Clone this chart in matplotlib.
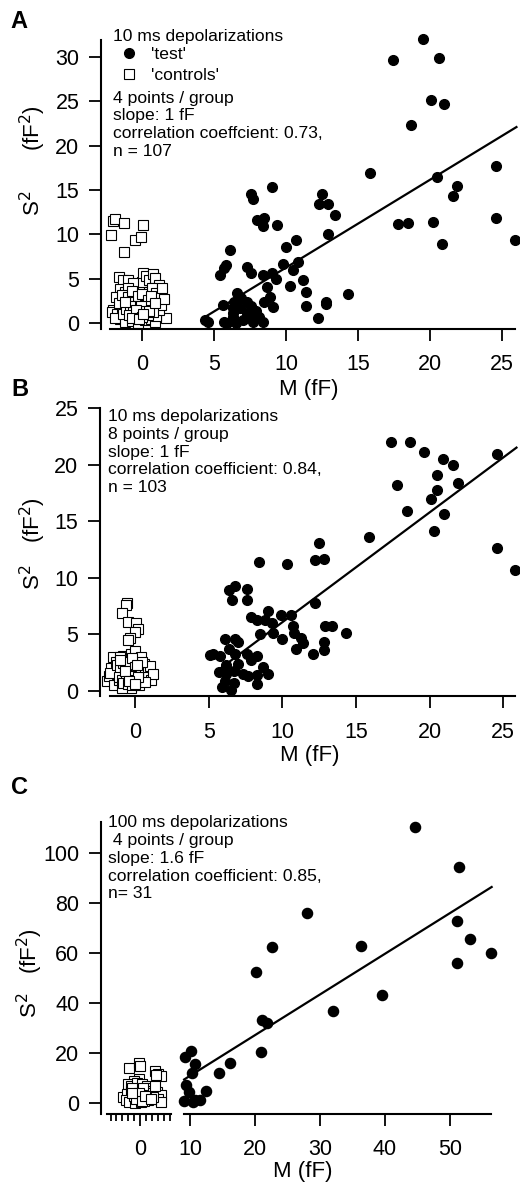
import matplotlib
matplotlib.use("Agg")
import matplotlib.pyplot as plt
from matplotlib.lines import Line2D

plt.rcParams['font.family'] = ['Liberation Sans', 'DejaVu Sans']

W, H = 520, 1184

# ---- panel A: 10 ms, 4 points / group
a_test_x = [19.5, 17.4, 20.6, 20.1, 21.0, 18.7, 15.8, 24.6, 20.5, 21.9, 21.6, 17.8, 18.5, 20.2,
            24.6, 25.9, 20.8, 9.0, 7.6, 7.7, 12.5, 12.3, 12.9, 13.4, 8.0, 8.5, 8.4, 9.4, 12.9,
            10.7, 10.0, 6.1, 5.8, 5.7, 5.4, 7.3, 7.6, 9.8, 10.8, 10.5, 8.4, 9.0, 9.3, 11.2, 10.3,
            11.4, 8.7, 14.3, 11.4, 12.8, 12.8, 12.2, 8.9, 8.5, 9.1, 5.6, 6.6, 6.9, 6.4, 7.3, 6.3,
            6.8, 7.6, 7.9, 6.3, 8.1, 8.4, 7.0, 6.5, 5.7, 4.6, 4.4, 6.3, 7.3, 7.6, 5.9, 7.7]
a_test_y = [32.0, 29.7, 29.9, 25.1, 24.7, 22.3, 16.9, 17.7, 16.5, 15.5, 14.3, 11.2, 11.3, 11.4,
            11.8, 9.4, 8.9, 15.3, 14.6, 14.0, 14.5, 13.4, 13.4, 12.2, 11.6, 11.8, 10.9, 11.1, 10.0,
            9.4, 8.6, 8.2, 6.5, 6.2, 5.4, 6.3, 5.6, 6.7, 6.9, 6.0, 5.4, 5.6, 5.0, 4.9, 4.2,
            3.5, 4.1, 3.3, 1.9, 2.4, 2.1, 0.6, 2.9, 2.4, 1.8, 2.0, 3.4, 2.8, 2.4, 2.4, 1.7,
            1.7, 1.9, 1.3, 0.7, 0.7, 0.15, 0.3, 0.05, 0.15, 0.1, 0.3, 1.1, 1.1, 0.9, 0.05, 0.15]
a_ctrl_x = [-2.15, -2.0, -1.9, -1.25, -1.25, -0.5, -0.1, 0.1, 1.7, 1.3,
            -1.6, -1.3, -1.0, -1.5, -1.2, -0.9, -1.8, -2.0, -2.1, -1.7, -1.4, -1.1, -0.8, -0.6,
            -0.4, -0.2, 0.0, 0.1, 0.3, 0.5, 0.8, 0.9, 1.2, 1.3, 1.1, 0.7, 0.4, 0.1, -0.2, -0.5,
            -0.8, -1.1, -1.5, -1.9, -1.2, -0.7, -0.3, 0.2, 0.6, 0.9, 1.0, 1.2, 1.3, 0.5, 0.2,
            -0.1, -0.4, -0.9, -1.3, -1.6, -0.6, 0.7, 1.0, -0.3, 0.4, 0.8, -1.0, -0.2, 1.4, 1.5,
            -1.4, -1.0, -0.7, -0.5, -0.3, 0.0, 0.2, 0.4, 0.6, -1.1, -0.8, -0.6, -0.1, 0.3,
            -1.2, -0.9, -0.4, 0.0, 0.5, 0.9, -0.7, -0.2, 0.1]
a_ctrl_y = [9.9, 11.5, 11.7, 11.3, 8.0, 9.4, 9.7, 11.1, 0.6, 3.0,
            5.2, 4.9, 4.8, 3.8, 3.5, 3.3, 2.9, 1.5, 1.2, 1.0, 1.8, 2.2, 2.6, 3.0,
            4.2, 3.8, 4.6, 5.6, 5.3, 4.8, 5.5, 5.1, 4.3, 3.0, 2.5, 2.2, 1.8, 1.5, 1.1, 0.8,
            0.5, 0.3, 0.4, 0.6, 0.1, 0.2, 0.0, 0.3, 0.5, 0.1, 0.8, 1.5, 2.0, 3.5, 2.8,
            2.4, 2.0, 1.4, 1.0, 2.2, 4.5, 3.9, 3.4, 0.5, 0.9, 1.2, 3.9, 3.2, 4.0, 2.7,
            3.1, 2.9, 3.6, 2.4, 3.0, 3.3, 2.0, 2.6, 3.0, 1.6, 1.9, 1.2, 1.9, 1.3,
            2.4, 0.9, 1.5, 0.7, 1.4, 2.3, 0.6, 0.4, 1.0]
a_fit_x = [4.4, 26.0]
a_fit_y = [0.7, 22.1]

# ---- panel B: 10 ms, 8 points / group
b_test_x = [17.4, 18.7, 19.6, 20.9, 21.6, 20.5, 21.9, 17.8, 20.5, 20.1, 18.5, 21.0, 20.3, 24.6,
            24.6, 25.8, 15.9, 12.5, 12.2, 12.8, 8.4, 10.3, 12.2, 12.9, 13.4, 14.3, 10.6, 9.9,
            9.0, 8.8, 8.3, 7.9, 9.3, 9.4, 8.5, 10.0, 10.7, 10.8, 11.3, 11.4, 10.9, 12.8, 12.8,
            12.1, 6.4, 6.8, 6.6, 7.6, 7.6, 6.1, 6.8, 7.0, 5.3, 5.8, 6.4, 6.8, 7.6, 8.3, 8.7,
            9.0, 5.7, 6.2, 6.7, 7.3, 7.7, 8.3, 8.3, 6.7, 6.1, 5.9, 6.5, 7.0, 7.9, 6.2, 5.1]
b_test_y = [22.0, 22.0, 21.1, 20.5, 20.0, 19.1, 18.4, 18.2, 17.8, 17.0, 15.9, 15.6, 14.1, 20.9,
            12.6, 10.7, 13.6, 13.1, 11.6, 11.7, 11.4, 11.2, 7.8, 5.7, 5.7, 5.1, 6.7, 6.7,
            7.1, 6.3, 6.3, 6.5, 6.0, 5.1, 5.0, 4.6, 5.7, 5.1, 4.7, 4.2, 3.7, 4.3, 3.6,
            3.3, 8.9, 9.3, 8.0, 9.0, 8.0, 4.6, 4.6, 4.3, 3.3, 3.1, 3.7, 3.3, 3.3, 3.1, 2.1,
            1.5, 1.7, 1.5, 1.8, 1.5, 1.3, 1.4, 0.6, 0.7, 0.9, 0.35, 0.06, 2.4, 2.7, 2.3, 3.2]
b_ctrl_x = [-0.55, -0.6, -0.9, -0.45, 0.07, 0.23, 0.0, -0.35, -0.45,
            -1.9, -1.8, -1.6, -1.5, -1.3, -1.2, -1.0, -0.9, -0.8, -0.7, -0.6, -0.5, -0.4, -0.3,
            -0.2, -0.1, 0.0, 0.1, 0.2, 0.3, 0.4, 0.5, 0.6, 0.8, 0.9, 1.0, 1.1, 1.2, -1.4, -1.1,
            -0.8, -0.5, -0.2, 0.1, 0.4, -0.6, -1.0, 0.7, -0.3, 0.0, 0.2, -1.7, -0.9, 0.5,
            -1.2, -1.0, -0.8, -0.7, -0.5, -0.4, -0.2, -0.1, 0.0, 0.1, -1.1, -0.9, -0.6, -0.3,
            -0.1, 0.2, -0.8, -0.5, -0.2, -1.0, -0.7, -0.4, 0.0]
b_ctrl_y = [7.75, 7.6, 6.9, 6.1, 6.0, 5.5, 5.2, 4.7, 4.5,
            0.9, 1.3, 2.0, 3.0, 2.6, 1.5, 0.6, 2.2, 3.1, 1.2, 0.4, 2.8, 1.8, 3.3,
            0.8, 2.5, 3.5, 1.4, 2.9, 0.5, 2.0, 1.1, 2.4, 1.7, 1.2, 2.2, 1.0, 1.5, 0.5, 1.0,
            1.6, 1.4, 1.9, 2.7, 3.0, 2.5, 3.0, 0.8, 0.3, 1.0, 1.8, 1.6, 0.3, 2.6,
            2.3, 1.9, 2.5, 2.0, 2.2, 2.6, 2.9, 1.5, 2.1, 2.3, 1.2, 1.0, 1.5, 1.3,
            1.0, 1.2, 0.7, 0.6, 0.5, 2.7, 1.8, 0.9, 0.6]
b_fit_x = [5.8, 25.9]
b_fit_y = [2.0, 21.5]

# ---- panel C: 100 ms, 4 points / group
c_test_x = [44.6, 51.4, 28.0, 51.0, 53.1, 22.6, 36.3, 56.3, 51.0, 20.1, 39.6, 32.0, 21.1, 21.8,
            21.0, 16.2, 14.5, 10.1, 9.3, 10.8, 10.3, 9.4, 9.9, 12.5, 9.1, 10.7, 11.5, 10.4]
c_test_y = [110.4, 94.4, 75.9, 73.0, 65.6, 62.3, 62.8, 60.0, 55.9, 52.3, 43.2, 36.9, 33.1, 32.2,
            20.3, 16.0, 12.0, 20.7, 18.4, 15.5, 12.0, 7.1, 4.4, 4.7, 0.8, 1.1, 1.3, 0.4]
c_ctrl_x = [-1.8, -0.2, 0.0, 2.5, 3.0, 3.6, 2.7, -0.1, -1.0, -2.0, -1.6, -0.5, 0.3, 1.2, 2.0,
            2.8, 3.5, 3.0, 3.6, -2.9, -2.2, -1.5, -0.8, 0.0, 0.8, 1.6, 2.2, 1.4, 0.6, -0.4,
            -1.2, -2.4, -1.8, -0.9, 0.2, 1.0, -0.3, 0.5, -1.3, 2.5,
            -1.0, -0.5, 0.0, 0.4, -0.7, -0.2, 0.3, 0.9, -1.4, 1.8]
c_ctrl_y = [13.9, 16.0, 14.8, 12.8, 11.5, 10.8, 11.3, 9.5, 8.7, 7.8, 6.9, 8.2, 7.5, 6.8, 5.9,
            4.4, 3.2, 1.5, 0.5, 2.6, 3.5, 5.0, 4.2, 3.6, 4.8, 3.9, 2.6, 1.2, 0.8, 1.4,
            1.9, 1.2, 0.4, 0.2, 0.3, 2.1, 5.5, 6.2, 6.0, 7.0,
            3.0, 2.5, 2.0, 3.3, 1.5, 4.0, 1.0, 2.8, 3.9, 1.8]
c_fit_x = [9.1, 56.4]
c_fit_y = [9.4, 86.4]

TICK_FS = 15.5
NOTE_FS = 12.6
LAB_FS = 16

fig = plt.figure(figsize=(W / 100, H / 100), dpi=100)


def box(left, top, right, bottom):
    return [left / W, 1 - bottom / H, (right - left) / W, (bottom - top) / H]


def ftext(px, py, s, **kw):
    fig.text(px / W, 1 - py / H, s, **kw)


def style(ax, xpad, left=True):
    ax.spines['top'].set_visible(False)
    ax.spines['right'].set_visible(False)
    for s in ['left', 'bottom']:
        ax.spines[s].set_linewidth(1.5)
    if not left:
        ax.spines['left'].set_visible(False)
        ax.tick_params(axis='y', left=False, labelleft=False)
    ax.tick_params(axis='both', direction='out', length=8.5, width=1.3, labelsize=TICK_FS,
                   colors='black')
    ax.tick_params(axis='y', pad=7)
    ax.tick_params(axis='x', pad=xpad)


def dots(ax, x, y, ms=7.0):
    ax.plot(x, y, 'o', color='black', ms=ms, mec='black', clip_on=False, zorder=3)


def squares(ax, x, y):
    ax.plot(x, y, 's', mfc='white', mec='black', mew=0.8, ms=6.8, clip_on=False, zorder=2)


def notes(px, py0, step, lines):
    for i, s in enumerate(lines):
        ftext(px, py0 + i * step, s, fontsize=NOTE_FS, va='center')


def ylabel(px, py_s, py_f):
    ftext(px, py_s, "S$^2$", fontsize=LAB_FS, rotation=90, ha='center', va='center')
    ftext(px, py_f, "(fF$^2$)", fontsize=LAB_FS, rotation=90, ha='center', va='center')


# ---------------- A
axA = fig.add_axes(box(110, 40, 515, 329))
squares(axA, a_ctrl_x, a_ctrl_y)
dots(axA, a_test_x, a_test_y)
axA.plot(a_fit_x, a_fit_y, color='black', lw=1.6, clip_on=False)
axA.set_xlim(-2.22, 25.9)
axA.set_ylim(-0.68, 31.92)
axA.set_xticks([0, 5, 10, 15, 20, 25])
axA.set_yticks([0, 5, 10, 15, 20, 25, 30])
style(axA, 9.5)
axA.spines['left'].set_position(('outward', 6.5))
handles = [Line2D([], [], ls='', marker='o', color='black', ms=7),
           Line2D([], [], ls='', marker='s', mfc='white', mec='black', mew=0.8, ms=6.8)]
axA.legend(handles, ["'test'", "'controls'"], loc='upper left',
           bbox_to_anchor=(120 / W, 1 - 47 / H), bbox_transform=fig.transFigure,
           frameon=False, fontsize=NOTE_FS, handlelength=1.0, handletextpad=0.8,
           labelspacing=0.3, borderpad=0, borderaxespad=0)
ftext(113, 37, "10 ms depolarizations", fontsize=NOTE_FS, va='center')
notes(113, 98, 17.8, ["4 points / group", "slope: 1 fF",
                      "correlation coeffcient: 0.73,", "n = 107"])
ftext(309, 389, "M (fF)", fontsize=LAB_FS, ha='center', va='center')
ylabel(33, 203, 128)
ftext(19, 22, "A", fontsize=17, fontweight='bold', ha='center', va='center')

# ---------------- B
axB = fig.add_axes(box(110, 408, 515, 696))
squares(axB, b_ctrl_x, b_ctrl_y)
dots(axB, b_test_x, b_test_y)
axB.plot(b_fit_x, b_fit_y, color='black', lw=1.6, clip_on=False)
axB.set_xlim(-1.70, 25.8)
axB.set_ylim(-0.44, 25.0)
axB.set_xticks([0, 5, 10, 15, 20, 25])
axB.set_yticks([0, 5, 10, 15, 20, 25])
style(axB, 10)
axB.spines['left'].set_position(('outward', 7.2))
notes(108, 417, 17.5, ["10 ms depolarizations", "8 points / group", "slope: 1 fF",
                       "correlation coefficient: 0.84,", "n = 103"])
ftext(310, 755, "M (fF)", fontsize=LAB_FS, ha='center', va='center')
ylabel(33, 577, 520)
ftext(20, 390, "B", fontsize=17, fontweight='bold', ha='center', va='center')

# ---------------- C (broken x axis)
axC1 = fig.add_axes(box(107, 822, 171, 1114))
axC2 = fig.add_axes(box(184, 822, 491, 1114), sharey=axC1)
squares(axC1, c_ctrl_x, c_ctrl_y)
dots(axC2, c_test_x, c_test_y, ms=7.3)
axC2.plot(c_fit_x, c_fit_y, color='black', lw=1.6, clip_on=False)
axC1.set_ylim(-4.4, 112.4)
axC1.set_xlim(-5.6, 5.25)
axC2.set_xlim(9.08, 56.3)
axC1.set_yticks([0, 20, 40, 60, 80, 100])
axC1.set_xticks([0])
axC1.set_xticks([-5, -4, -3, -2, -1, 1, 2, 3, 4, 5], minor=True)
axC2.set_xticks([10, 20, 30, 40, 50])
style(axC1, 9.5)
style(axC2, 9.5, left=False)
axC1.tick_params(axis='x', which='minor', direction='out', length=5, width=1.3)
axC1.spines['left'].set_position(('outward', 4.3))
notes(108, 823, 17.7, ["100 ms depolarizations", " 4 points / group", "slope: 1.6 fF",
                       "correlation coefficient: 0.85,", "n= 31"])
ftext(303, 1172, "M (fF)", fontsize=LAB_FS, ha='center', va='center')
ylabel(30, 1005, 951)
ftext(19, 787, "C", fontsize=17, fontweight='bold', ha='center', va='center')

fig.savefig("out.png", dpi=100)
